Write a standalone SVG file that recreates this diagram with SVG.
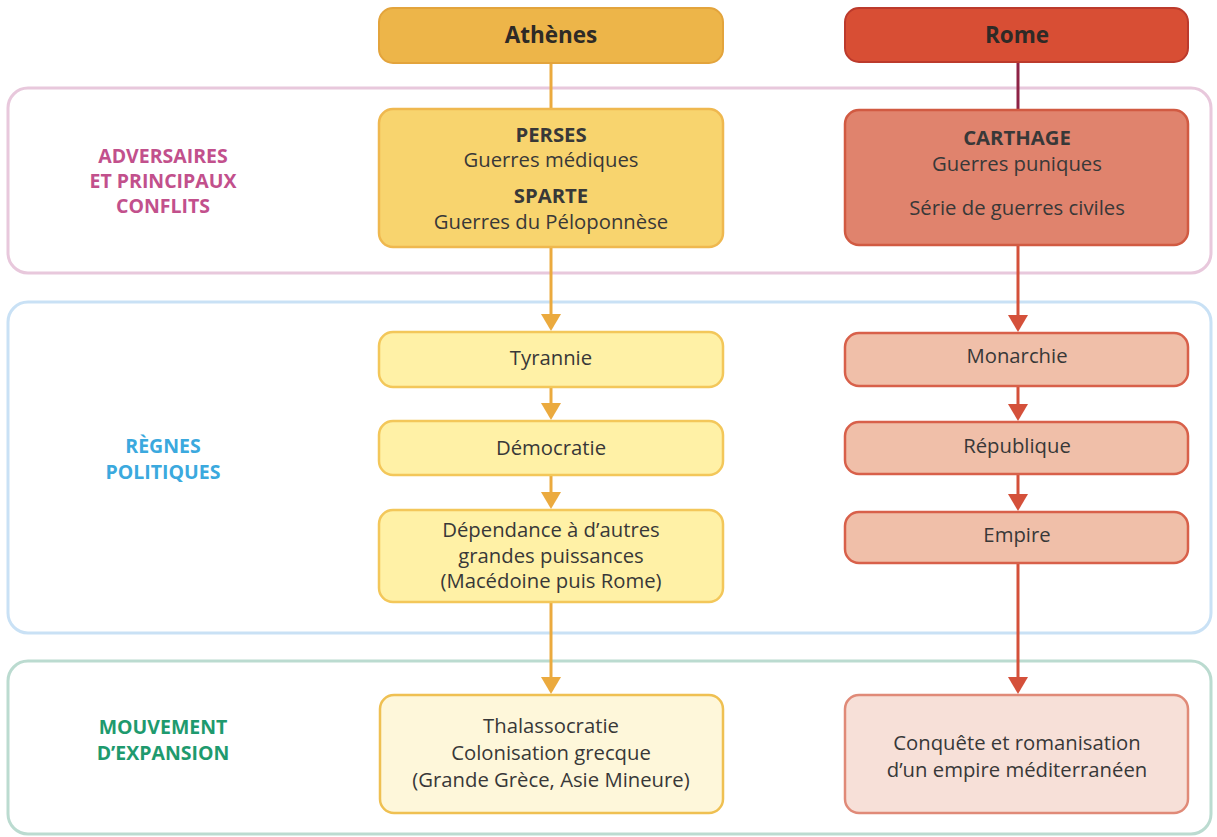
<svg xmlns="http://www.w3.org/2000/svg" width="1217" height="837" viewBox="0 0 1217 837">
<defs>
<style>
.sec{fill:none;stroke-width:3}
.lbl{font-family:"Open Sans","Liberation Sans",sans-serif;font-weight:700;font-size:19.5px;text-anchor:middle}
.t{font-family:"Open Sans","Liberation Sans",sans-serif;font-size:20.3px;fill:#383838;text-anchor:middle}
.b{font-weight:700}
.h{font-family:"Open Sans","Liberation Sans",sans-serif;font-size:22.5px;font-weight:700;fill:#2e2a26;text-anchor:middle}
.ca{stroke:#EBAA3E;stroke-width:3;fill:none}
.cr{stroke:#D4503A;stroke-width:3;fill:none}
</style>
<marker id="ma" markerUnits="userSpaceOnUse" viewBox="0 0 17 20" markerWidth="17" markerHeight="20" refX="9" refY="10" orient="auto"><path d="M0,0 L17,10 L0,20 Z" fill="#EBAA3E"/></marker>
<marker id="mr" markerUnits="userSpaceOnUse" viewBox="0 0 17 20" markerWidth="17" markerHeight="20" refX="9" refY="10" orient="auto"><path d="M0,0 L17,10 L0,20 Z" fill="#D4503A"/></marker>
</defs>
<rect width="1217" height="837" fill="#ffffff"/>

<g id="sections">
<rect class="sec" x="8" y="88" width="1203" height="185" rx="20" stroke="#E8C8DC"/>
<rect class="sec" x="8" y="302" width="1203" height="331" rx="20" stroke="#C9E1F5"/>
<rect class="sec" x="8" y="661" width="1203" height="173" rx="20" stroke="#BBDBD0"/>
</g>

<g id="labels">
<text class="lbl" fill="#C2508C" x="163" y="163">ADVERSAIRES</text>
<text class="lbl" fill="#C2508C" x="163" y="188">ET PRINCIPAUX</text>
<text class="lbl" fill="#C2508C" x="163" y="213">CONFLITS</text>
<text class="lbl" fill="#3BA9DE" x="163" y="453">RÈGNES</text>
<text class="lbl" fill="#3BA9DE" x="163" y="479">POLITIQUES</text>
<text class="lbl" fill="#1E9A6E" x="163" y="734">MOUVEMENT</text>
<text class="lbl" fill="#1E9A6E" x="163" y="760">D’EXPANSION</text>
</g>

<g id="connectors">
<line class="ca" x1="551" y1="63" x2="551" y2="108"/>
<line class="ca" x1="551" y1="247" x2="551" y2="323" marker-end="url(#ma)"/>
<line class="ca" x1="551" y1="387" x2="551" y2="412" marker-end="url(#ma)"/>
<line class="ca" x1="551" y1="475" x2="551" y2="501" marker-end="url(#ma)"/>
<line class="ca" x1="551" y1="602" x2="551" y2="686" marker-end="url(#ma)"/>
<line x1="1018" y1="62" x2="1018" y2="110" stroke="#8E2346" stroke-width="3"/>
<line class="cr" x1="1018" y1="245" x2="1018" y2="324" marker-end="url(#mr)"/>
<line class="cr" x1="1018" y1="386" x2="1018" y2="413" marker-end="url(#mr)"/>
<line class="cr" x1="1018" y1="474" x2="1018" y2="503" marker-end="url(#mr)"/>
<line class="cr" x1="1018" y1="563" x2="1018" y2="686" marker-end="url(#mr)"/>
</g>

<g id="athenes">
<rect x="379" y="8" width="344" height="55" rx="14" fill="#EDB549" stroke="#E3A43C" stroke-width="2"/>
<text class="h" x="551" y="43">Athènes</text>
</g>
<g id="rome">
<rect x="845" y="8" width="343" height="54" rx="14" fill="#D84E34" stroke="#BC3A2C" stroke-width="2"/>
<text class="h" x="1017" y="43">Rome</text>
</g>

<g id="athenes-conflits">
<rect x="379" y="109" width="344" height="138" rx="14" fill="#F8D46E" stroke="#EFB84F" stroke-width="2.5"/>
<text class="t b" x="551" y="142">PERSES</text>
<text class="t" x="551" y="167">Guerres médiques</text>
<text class="t b" x="551" y="203">SPARTE</text>
<text class="t" x="551" y="229">Guerres du Péloponnèse</text>
</g>
<g id="rome-conflits">
<rect x="845" y="110" width="343" height="135" rx="14" fill="#E0836D" stroke="#D15A42" stroke-width="2.5"/>
<text class="t b" x="1017" y="145">CARTHAGE</text>
<text class="t" x="1017" y="171">Guerres puniques</text>
<text class="t" x="1017" y="215">Série de guerres civiles</text>
</g>

<g id="tyrannie">
<rect x="379" y="332" width="344" height="55" rx="14" fill="#FFF1A6" stroke="#F3C75A" stroke-width="2.5"/>
<text class="t" x="551" y="365">Tyrannie</text>
</g>
<g id="democratie">
<rect x="379" y="421" width="344" height="54" rx="14" fill="#FFF1A6" stroke="#F3C75A" stroke-width="2.5"/>
<text class="t" x="551" y="455">Démocratie</text>
</g>
<g id="dependance">
<rect x="379" y="510" width="344" height="92" rx="14" fill="#FFF1A6" stroke="#F3C75A" stroke-width="2.5"/>
<text class="t" x="551" y="537">Dépendance à d’autres</text>
<text class="t" x="551" y="563">grandes puissances</text>
<text class="t" x="551" y="588">(Macédoine puis Rome)</text>
</g>

<g id="monarchie">
<rect x="845" y="333" width="343" height="53" rx="14" fill="#F0BFA9" stroke="#D8604A" stroke-width="2.5"/>
<text class="t" x="1017" y="363">Monarchie</text>
</g>
<g id="republique">
<rect x="845" y="422" width="343" height="52" rx="14" fill="#F0BFA9" stroke="#D8604A" stroke-width="2.5"/>
<text class="t" x="1017" y="453">République</text>
</g>
<g id="empire">
<rect x="845" y="512" width="343" height="51" rx="14" fill="#F0BFA9" stroke="#D8604A" stroke-width="2.5"/>
<text class="t" x="1017" y="542">Empire</text>
</g>

<g id="thalassocratie">
<rect x="380" y="695" width="343" height="118" rx="14" fill="#FEF7DA" stroke="#EFC052" stroke-width="2.5"/>
<text class="t" x="551" y="733">Thalassocratie</text>
<text class="t" x="551" y="760">Colonisation grecque</text>
<text class="t" x="551" y="787">(Grande Grèce, Asie Mineure)</text>
</g>
<g id="conquete">
<rect x="845" y="695" width="343" height="118" rx="14" fill="#F7E0D8" stroke="#E08A78" stroke-width="2.5"/>
<text class="t" x="1017" y="750">Conquête et romanisation</text>
<text class="t" x="1017" y="777">d’un empire méditerranéen</text>
</g>
</svg>
